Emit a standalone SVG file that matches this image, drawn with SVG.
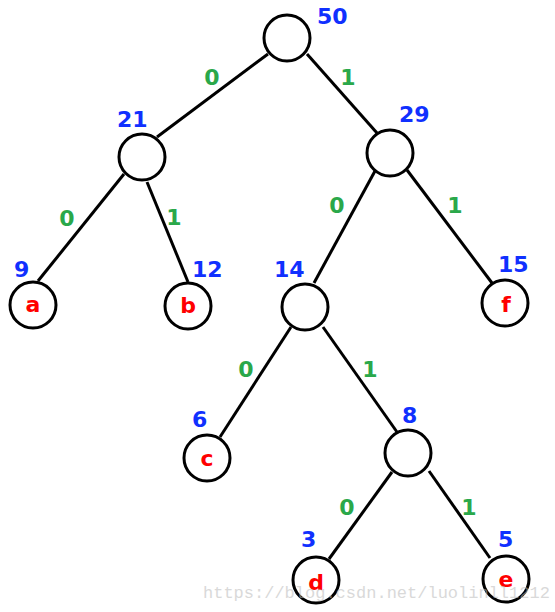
<svg xmlns="http://www.w3.org/2000/svg" width="555" height="612" viewBox="0 0 555 612">
<style>
.e{stroke:#000;stroke-width:3;fill:none}
.n{fill:#fff;stroke:#000;stroke-width:3}
.w{font-family:"DejaVu Sans",sans-serif;font-weight:bold;font-size:22px;fill:#1030ff}
.b{font-family:"DejaVu Sans",sans-serif;font-weight:bold;font-size:22px;fill:#2aa84a;text-anchor:middle}
.l{font-family:"DejaVu Sans",sans-serif;font-weight:bold;font-size:22px;fill:#ff0000;text-anchor:middle}
.wm{font-family:"Liberation Mono",monospace;font-size:17px;fill:#bbb;opacity:0.55}
</style>
<rect width="555" height="612" fill="#fff"/>
<g id="edges">
<line class="e" x1="268" y1="54" x2="157" y2="137"/>
<line class="e" x1="307" y1="54" x2="377" y2="133"/>
<line class="e" x1="124" y1="174" x2="38" y2="281"/>
<line class="e" x1="147" y1="182" x2="188" y2="282"/>
<line class="e" x1="375" y1="171" x2="314" y2="283"/>
<line class="e" x1="407" y1="170" x2="492" y2="283"/>
<line class="e" x1="291" y1="327" x2="220" y2="437"/>
<line class="e" x1="323" y1="327" x2="397" y2="432"/>
<line class="e" x1="392" y1="472" x2="329" y2="559"/>
<line class="e" x1="429" y1="471" x2="490" y2="558"/>
<text class="b" x="212" y="85">0</text>
<text class="b" x="348" y="85">1</text>
<text class="b" x="67" y="226">0</text>
<text class="b" x="174" y="225">1</text>
<text class="b" x="337" y="213">0</text>
<text class="b" x="455" y="213">1</text>
<text class="b" x="246" y="377">0</text>
<text class="b" x="370" y="377">1</text>
<text class="b" x="347" y="515">0</text>
<text class="b" x="469" y="515">1</text>
</g>
<g id="n50"><circle class="n" cx="287" cy="38" r="23"/><text class="w" x="317" y="24">50</text></g>
<g id="n21"><circle class="n" cx="142" cy="157" r="23"/><text class="w" x="117" y="127">21</text></g>
<g id="n29"><circle class="n" cx="390" cy="153" r="23"/><text class="w" x="399" y="122">29</text></g>
<g id="na"><circle class="n" cx="33" cy="305" r="23"/><text class="w" x="14" y="277">9</text><text class="l" x="33" y="312">a</text></g>
<g id="nb"><circle class="n" cx="188" cy="306" r="23"/><text class="w" x="192" y="277">12</text><text class="l" x="188" y="313">b</text></g>
<g id="n14"><circle class="n" cx="305" cy="307" r="23"/><text class="w" x="274" y="277">14</text></g>
<g id="nf"><circle class="n" cx="505" cy="303" r="23"/><text class="w" x="498" y="272">15</text><text class="l" x="506" y="312">f</text></g>
<g id="nc"><circle class="n" cx="207" cy="458" r="23"/><text class="w" x="192" y="427">6</text><text class="l" x="207" y="466">c</text></g>
<g id="n8"><circle class="n" cx="408" cy="453" r="23"/><text class="w" x="402" y="423">8</text></g>
<g id="nd"><circle class="n" cx="316" cy="580" r="23"/><text class="w" x="301" y="547">3</text><text class="l" x="316" y="590">d</text></g>
<g id="ne"><circle class="n" cx="506" cy="579" r="23"/><text class="w" x="498" y="547">5</text><text class="l" x="506" y="587">e</text></g>
<text class="wm" x="203" y="598">https://blog.csdn.net/luolinll1212</text>
</svg>
